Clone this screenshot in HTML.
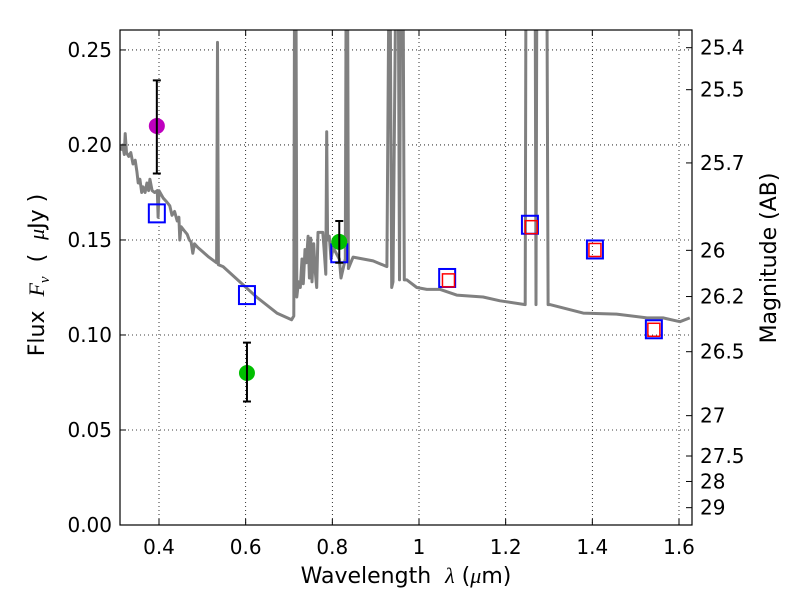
<!DOCTYPE html>
<html><head><meta charset="utf-8"><style>
body{margin:0;background:#fff}
svg text{font-family:"DejaVu Sans","Liberation Sans",sans-serif;fill:#000;white-space:pre}
</style></head><body>
<svg id="chart" width="800" height="600" xmlns="http://www.w3.org/2000/svg">
<defs><clipPath id="clip"><rect x="120" y="30" width="572" height="495"/></clipPath></defs>
<rect x="0" y="0" width="800" height="600" fill="#fff"/>
<g id="grid"></g>
<g id="spec" clip-path="url(#clip)"></g>
<g id="marks"></g>
<rect x="120" y="30" width="572" height="495" fill="none" stroke="#000" stroke-width="1.2"/>
<g id="axes"></g>
<text x="406" y="583" font-size="22" text-anchor="middle">Wavelength&#160;&#160;<tspan font-family="Liberation Serif" font-style="italic">λ</tspan> (<tspan font-family="Liberation Serif" font-style="italic">μ</tspan>m)</text>
<text transform="translate(44,275) rotate(-90)" font-size="22" text-anchor="middle">Flux&#160;&#160;<tspan font-family="Liberation Serif" font-style="italic">F<tspan font-size="15" dy="5">ν</tspan></tspan><tspan dy="-5">&#160;&#160;(&#160;&#160;</tspan><tspan font-family="Liberation Serif" font-style="italic">μ</tspan>Jy )</text>
<text transform="translate(776,258) rotate(-90)" font-size="22" text-anchor="middle">Magnitude (AB)</text>
</svg>
<script>
const xTicks=[0.4,0.6,0.8,1.0,1.2,1.4,1.6];
const xTickLabels=["0.4","0.6","0.8","1","1.2","1.4","1.6"];
const yTicks=[0,0.05,0.10,0.15,0.20,0.25];
const yTickLabels=["0.00","0.05","0.10","0.15","0.20","0.25"];
const magTicks=[25.4,25.5,25.7,26,26.2,26.5,27,27.5,28,29];
const magTickLabels=["25.4","25.5","25.7","26","26.2","26.5","27","27.5","28","29"];
const specLam=[0.312,0.316,0.320,0.322,0.325,0.330,0.335,0.340,0.345,0.349,0.352,0.356,0.360,0.363,0.368,0.372,0.376,0.379,0.384,0.390,0.396,0.398,0.400,0.410,0.418,0.425,0.430,0.436,0.442,0.446,0.448,0.451,0.458,0.465,0.470,0.474,0.478,0.482,0.490,0.500,0.515,0.533,0.535,0.537,0.548,0.625,0.672,0.706,0.711,0.713,0.716,0.718,0.722,0.726,0.730,0.733,0.737,0.740,0.744,0.747,0.750,0.753,0.757,0.760,0.764,0.767,0.778,0.781,0.785,0.787,0.789,0.793,0.797,0.802,0.816,0.820,0.830,0.832,0.835,0.837,0.848,0.894,0.926,0.931,0.933,0.937,0.940,0.947,0.952,0.955,0.958,0.963,0.966,0.972,0.995,1.018,1.049,1.087,1.148,1.187,1.245,1.247,1.268,1.270,1.272,1.295,1.298,1.302,1.379,1.456,1.526,1.563,1.602,1.625];
const specFlux=[0.197,0.200,0.195,0.206,0.196,0.194,0.196,0.190,0.192,0.186,0.180,0.182,0.175,0.178,0.175,0.180,0.176,0.182,0.176,0.175,0.176,0.162,0.176,0.172,0.170,0.168,0.163,0.165,0.160,0.162,0.150,0.157,0.155,0.153,0.150,0.149,0.143,0.148,0.146,0.144,0.141,0.138,0.254,0.137,0.136,0.120,0.1115,0.108,0.110,0.3,0.3,0.120,0.128,0.125,0.140,0.127,0.145,0.138,0.152,0.130,0.151,0.128,0.148,0.135,0.125,0.154,0.154,0.145,0.132,0.207,0.150,0.152,0.140,0.146,0.140,0.130,0.140,0.3,0.3,0.135,0.141,0.139,0.136,0.3,0.3,0.125,0.128,0.3,0.3,0.129,0.3,0.3,0.129,0.129,0.125,0.124,0.124,0.121,0.120,0.118,0.116,0.3,0.3,0.116,0.3,0.3,0.116,0.116,0.1115,0.111,0.109,0.109,0.107,0.109];
const blueLam=[0.395,0.603,0.816,1.065,1.256,1.406,1.542];
const blueFlux=[0.164,0.121,0.143,0.130,0.158,0.145,0.103];
const redLam=[1.068,1.259,1.406,1.542];
const redFlux=[0.129,0.157,0.145,0.103];
const ptLam=[0.395,0.603,0.816];
const ptFlux=[0.210,0.080,0.149];
const ptLo=[0.185,0.065,0.138];
const ptHi=[0.234,0.096,0.160];
const ptColor=["#bf00bf","#00bf00","#00bf00"];

const X0=120,X1=692,Y0=525,Y1=30,XMIN=0.31,XMAX=1.63,YMIN=0,YMAX=0.2605;
const sx=v=>X0+(v-XMIN)/(XMAX-XMIN)*(X1-X0);
const sy=v=>Y0-(v-YMIN)/(YMAX-YMIN)*(Y0-Y1);
const NS="http://www.w3.org/2000/svg";
function mk(tag,attrs,parent){const e=document.createElementNS(NS,tag);for(const k in attrs)e.setAttribute(k,attrs[k]);parent.appendChild(e);return e;}
const grid=document.getElementById('grid'),axes=document.getElementById('axes'),spec=document.getElementById('spec'),marks=document.getElementById('marks');
xTicks.forEach((t,i)=>{const x=sx(t);
 let g=mk('line',{x1:x,x2:x,y1:Y1,y2:Y0,stroke:'#000','stroke-width':0.8,'stroke-dasharray':'1,3'},grid);
 
 
 mk('line',{x1:x,x2:x,y1:Y0,y2:Y0-6,stroke:'#000'},axes);
 mk('line',{x1:x,x2:x,y1:Y1,y2:Y1+6,stroke:'#000'},axes);
 let tx=mk('text',{x:x,y:554,'font-size':20,'text-anchor':'middle'},axes);tx.textContent=xTickLabels[i];
 
 
});
yTicks.forEach((t,i)=>{const y=sy(t);
 let g=mk('line',{x1:X0,x2:X1,y1:y,y2:y,stroke:'#000','stroke-width':0.8,'stroke-dasharray':'1,3'},grid);
 
 
 mk('line',{x1:X0,x2:X0+6,y1:y,y2:y,stroke:'#000'},axes);
 let tx=mk('text',{x:112,y:y+7,'font-size':20,'text-anchor':'end'},axes);tx.textContent=yTickLabels[i];
 
 
});
magTicks.forEach((m,i)=>{const f=Math.pow(10,(23.9-m)/2.5);const y=sy(f);
 mk('line',{x1:X1,x2:X1-6,y1:y,y2:y,stroke:'#000'},axes);
 let tx=mk('text',{x:700,y:y+7,'font-size':20},axes);tx.textContent=magTickLabels[i];
 
 
});
const pts=specLam.map((l,i)=>sx(l).toFixed(1)+','+sy(specFlux[i]).toFixed(1)).join(' ');
let pl=mk('polyline',{points:pts,fill:'none',stroke:'#808080','stroke-width':3,'stroke-linejoin':'round'},spec);


blueLam.forEach((l,i)=>{const x=sx(l),y=sy(blueFlux[i]);
 let r=mk('rect',{x:x-8,y:y-9,width:16,height:18,fill:'none',stroke:'#0000ff','stroke-width':2},marks);
 
 
});
redLam.forEach((l,i)=>{const x=sx(l),y=sy(redFlux[i]);
 let r=mk('rect',{x:x-6,y:y-6,width:12,height:13,fill:'none',stroke:'#ff0000','stroke-width':1.5},marks);
 
 
});
ptLam.forEach((l,i)=>{const x=sx(l);
 let c=mk('circle',{cx:x,cy:sy(ptFlux[i]),r:8,fill:ptColor[i]},marks);
 
 
 let e=mk('path',{d:`M${x},${sy(ptLo[i])}V${sy(ptHi[i])}M${x-4},${sy(ptLo[i])}H${x+4}M${x-4},${sy(ptHi[i])}H${x+4}`,stroke:'#000','stroke-width':2,fill:'none'},marks);
 
 
});
</script>
</body></html>
